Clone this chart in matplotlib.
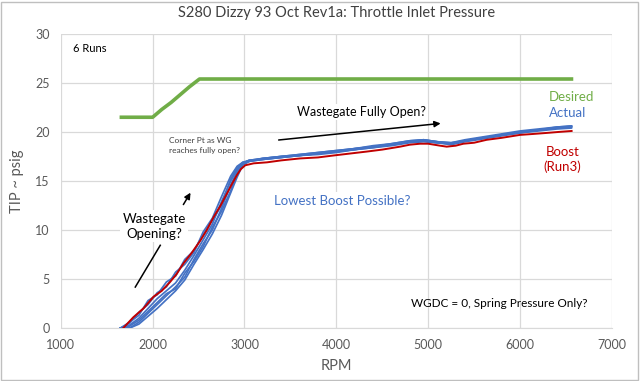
import matplotlib
matplotlib.use("Agg")
import matplotlib.pyplot as plt
from matplotlib.patches import Rectangle

plt.rcParams['font.family'] = ['Lato', 'DejaVu Sans']

# desired boost (green), overlapped for all runs
desired_rpm = [1640, 2000, 2100, 2200, 2300, 2400, 2510, 6580]
desired_psi = [21.5, 21.5, 22.3, 23.0, 23.8, 24.6, 25.4, 25.4]

# actual TIP for the 6 runs (blue)
run_rpm = [1650, 1750, 1850, 1950, 2050, 2150, 2250, 2350, 2450, 2550, 2650, 2750,
           2850, 2920, 2980, 3050, 3200, 3400, 3600, 3800, 4000, 4200, 4400, 4600,
           4800, 4950, 5100, 5250, 5400, 5600, 5800, 6000, 6200, 6400, 6560]
run1 = [0, 0.3, 1.0, 2.0, 3.0, 3.8, 4.6, 5.9, 7.4, 9.0, 10.6, 12.9, 15.0, 16.2, 16.9, 17.0, 17.2, 17.4,
        17.6, 17.8, 18.0, 18.2, 18.4, 18.7, 19.0, 19.1, 18.9, 18.8, 19.1, 19.4, 19.7, 20.0, 20.2, 20.4, 20.5]
run2 = [0, 0.0, 0.6, 1.5, 2.4, 3.3, 4.2, 5.2, 7.0, 8.6, 10.0, 12.2, 14.6, 16.0, 16.8, 17.1, 17.3, 17.5,
        17.7, 17.9, 18.1, 18.3, 18.5, 18.8, 19.1, 19.2, 19.0, 18.9, 19.2, 19.5, 19.8, 20.1, 20.3, 20.5, 20.6]
run3 = [0, 0.5, 1.6, 2.4, 3.6, 4.2, 5.7, 6.5, 7.7, 9.8, 11.2, 13.4, 15.5, 16.5, 16.9, 17.1, 17.2, 17.4,
        17.6, 17.7, 17.9, 18.2, 18.4, 18.6, 18.9, 19.0, 18.9, 18.7, 19.0, 19.3, 19.6, 19.9, 20.1, 20.3, 20.4]
run4 = [0, 0.2, 0.8, 1.7, 2.6, 3.5, 4.0, 5.6, 6.8, 8.3, 10.3, 11.9, 14.0, 15.8, 16.7, 17.0, 17.3, 17.5,
        17.7, 17.9, 18.1, 18.3, 18.6, 18.8, 19.1, 19.2, 19.0, 18.9, 19.1, 19.4, 19.7, 20.0, 20.2, 20.4, 20.6]
run5 = [0, 0.0, 0.4, 1.2, 2.0, 2.9, 3.8, 4.9, 6.5, 8.0, 9.6, 11.5, 13.8, 15.4, 16.6, 17.0, 17.2, 17.4,
        17.6, 17.8, 18.0, 18.2, 18.5, 18.7, 19.0, 19.1, 18.9, 18.8, 19.1, 19.4, 19.7, 19.9, 20.2, 20.4, 20.5]
run6 = [0, 0.6, 1.3, 2.8, 3.4, 4.7, 5.3, 7.0, 7.9, 9.5, 11.0, 12.5, 15.2, 16.4, 16.8, 17.1, 17.3, 17.5,
        17.6, 17.8, 18.0, 18.3, 18.5, 18.7, 19.0, 19.2, 19.0, 18.8, 19.1, 19.4, 19.7, 20.0, 20.2, 20.5, 20.6]
runs = [run1, run2, run3, run4, run5, run6]

# boost of run 3 (red)
boost_rpm = [1680, 1790, 1900, 2010, 2100, 2190, 2260, 2336, 2420, 2518, 2590, 2663, 2740, 2808, 2870,
             2917, 2960, 3008, 3100, 3244, 3400, 3606, 3800, 3969, 4150, 4332, 4500, 4694, 4800, 4912,
             5000, 5130, 5202, 5300, 5383, 5500, 5637, 5800, 6000, 6150, 6290, 6420, 6562]
boost_psi = [0, 1.1, 2.0, 3.2, 3.8, 4.7, 5.5, 6.6, 7.6, 8.9, 10.0, 11.3, 12.5, 13.7, 14.8,
             15.6, 16.2, 16.6, 16.8, 16.9, 17.1, 17.3, 17.4, 17.6, 17.8, 18.0, 18.2, 18.5, 18.7, 18.8,
             18.8, 18.6, 18.5, 18.6, 18.8, 18.9, 19.2, 19.4, 19.7, 19.8, 19.9, 20.0, 20.1]

GREEN = '#70AD47'
BLUE = '#4472C4'
RED = '#C00000'
GRID = '#D9D9D9'
TXT = '#595959'

fig = plt.figure(figsize=(6.4, 3.81), dpi=100)
ax = fig.add_axes([0.095, 0.139, 0.861, 0.772])

ax.plot(desired_rpm, desired_psi, color=GREEN, lw=2.6, solid_capstyle='butt', zorder=3)
for r in runs:
    ax.plot(run_rpm, r, color=BLUE, lw=1.25, zorder=3)
ax.plot(boost_rpm, boost_psi, color=RED, lw=1.4, zorder=4)

ax.set_xlim(1000, 7000)
ax.set_ylim(0, 30)
ax.set_xticks(range(1000, 7001, 1000))
ax.set_yticks(range(0, 31, 5))
ax.grid(True, color=GRID, lw=0.9)
ax.set_axisbelow(True)
for s in ['top', 'right', 'left']:
    ax.spines[s].set_visible(False)
ax.spines['bottom'].set_color(GRID)
ax.tick_params(length=0, labelsize=9, colors=TXT, pad=8)
ax.set_xlabel('RPM', fontsize=10.5, color=TXT, labelpad=6)
ax.set_ylabel('TIP ~ psig', fontsize=10.5, color=TXT, labelpad=8)
ax.set_title('S280 Dizzy 93 Oct Rev1a: Throttle Inlet Pressure', fontsize=10.5, color='#404040', pad=12)

box = dict(facecolor='white', edgecolor='none', pad=1.5)
ax.text(1130, 28.5, '6 Runs', fontsize=8, va='center', ha='left')
ax.text(4270, 22.0, 'Wastegate Fully Open?', fontsize=9, va='center', ha='center', bbox=box)
ax.annotate('', xy=(5166, 20.9), xytext=(3342, 19.15),
            arrowprops=dict(arrowstyle='-|>', color='black', lw=1.1, mutation_scale=9))
ax.text(2175, 18.6, 'Corner Pt as WG\nreaches fully open?', fontsize=6, va='center', ha='left',
        color='#404040', linespacing=1.5, bbox=box)
ax.annotate('', xy=(2428, 14.05), xytext=(2319, 12.35),
            arrowprops=dict(arrowstyle='-|>', color='black', lw=1.1, mutation_scale=9))
ax.text(2017, 10.4, 'Wastegate\nOpening?', fontsize=9.5, va='center', ha='center',
        linespacing=1.3, bbox=box, zorder=5)
ax.plot([2083, 1811], [8.44, 4.18], color='black', lw=1.1, zorder=5)
ax.text(4069, 13.0, 'Lowest Boost Possible?', fontsize=9.5, color=BLUE, va='center', ha='center', bbox=box)
ax.text(5771, 2.5, 'WGDC = 0, Spring Pressure Only?', fontsize=8.5, va='center', ha='center')
ax.text(6563, 23.6, 'Desired', fontsize=9.5, color=GREEN, va='center', ha='center')
ax.text(6522, 21.9, 'Actual', fontsize=9.5, color=BLUE, va='center', ha='center')
ax.text(6462, 17.2, 'Boost\n(Run3)', fontsize=9.5, color=RED, va='center', ha='center', linespacing=1.3)

fig.patches.append(Rectangle((0.002, 0.003), 0.995, 0.993, transform=fig.transFigure,
                             fill=False, edgecolor='#BFBFBF', lw=1))

fig.savefig('out.png', dpi=100)
